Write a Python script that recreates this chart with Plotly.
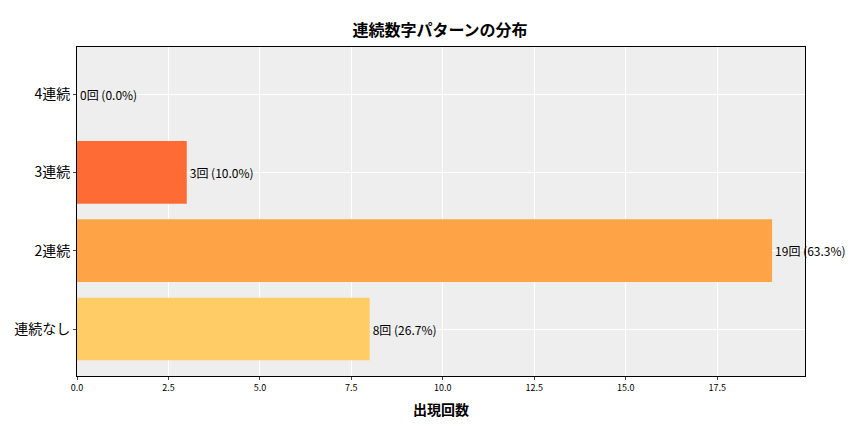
import plotly.graph_objects as go

categories = ['連続なし', '2連続', '3連続', '4連続']
counts = [8, 19, 3, 0]
percents = [26.7, 63.3, 10.0, 0.0]
colors = ['#FFCC66', '#FFA347', '#FF6B35', '#FF3B1F']

labels = [f'{c}回 ({p:.1f}%)' for c, p in zip(counts, percents)]

fig = go.Figure()
fig.add_trace(go.Bar(
    x=counts,
    y=categories,
    orientation='h',
    width=0.8,
    marker=dict(color=colors, line=dict(width=0)),
    text=labels,
    textposition='outside',
    cliponaxis=False,
    textfont=dict(size=12, color='black'),
))

# the page adds an 8px offset, so margins are shifted to compensate
fig.update_layout(
    title=dict(text='<b>連続数字パターンの分布</b>', x=0.5, y=0.96, font=dict(size=16, color='black')),
    font=dict(family='Noto Sans CJK JP', color='black'),
    width=864, height=432,
    margin=dict(l=69, r=67, t=39, b=64),
    paper_bgcolor='white',
    plot_bgcolor='#EEEEEE',
    showlegend=False,
    xaxis=dict(
        title=dict(text='<b>出現回数</b>', font=dict(size=14, color='black'), standoff=12),
        range=[0, 19.9],
        tick0=0, dtick=2.5, tickformat='.1f',
        tickfont=dict(size=9, color='black'),
        gridcolor='white', zeroline=False,
        showline=True, linecolor='black', mirror=True,
        ticks='outside', ticklen=3, automargin=False,
    ),
    yaxis=dict(
        range=[-0.6, 3.6],
        tickfont=dict(size=14, color='black'),
        gridcolor='white',
        showline=True, linecolor='black', mirror=True,
        ticks='outside', ticklen=3, automargin=False,
    ),
)

fig.write_html('out.html')
